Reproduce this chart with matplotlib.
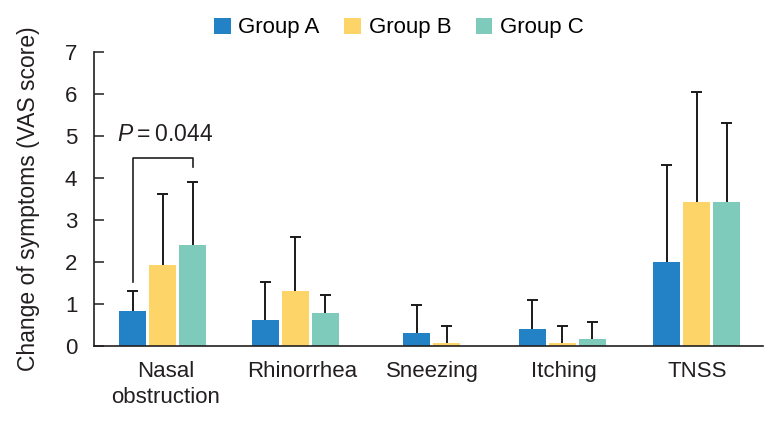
import matplotlib
matplotlib.use("Agg")
import matplotlib.pyplot as plt
import numpy as np
from matplotlib.patches import Patch

plt.rcParams['font.family'] = ['Liberation Sans', 'DejaVu Sans']
plt.rcParams['mathtext.fontset'] = 'custom'
plt.rcParams['mathtext.it'] = 'Liberation Sans:italic'
plt.rcParams['mathtext.rm'] = 'Liberation Sans'

categories = ["Nasal\nobstruction", "Rhinorrhea", "Sneezing", "Itching", "TNSS"]
groups = ["Group A", "Group B", "Group C"]
group_a = [0.83, 0.62, 0.31, 0.40, 2.00]
group_b = [1.92, 1.31, 0.07, 0.07, 3.43]
group_c = [2.40, 0.79, 0.00, 0.17, 3.43]
err_a = [0.48, 0.90, 0.67, 0.69, 2.30]
err_b = [1.69, 1.29, 0.41, 0.41, 2.61]
err_c = [1.50, 0.42, np.nan, 0.40, 1.87]
p_label = "0.044"
yticks = [0, 1, 2, 3, 4, 5, 6, 7]

colors = ["#2382C6", "#FDD467", "#7ECBBC"]

# layout (horizontal positions, in pixel-like units)
group_centers = [162.5, 295, 446.5, 562, 696.5]
label_centers = [166, 302, 432.5, 563.5, 697.5]
offsets = [-30, 0, 30]
bar_w = 27
cap_half = 5.5

fig = plt.figure(figsize=(7.74, 4.21), dpi=100)
ax = fig.add_axes([94/774, 75/421, (763-94)/774, (346-51.5)/421])

vals = [group_a, group_b, group_c]
errs = [err_a, err_b, err_c]
for g in range(3):
    xs = np.array([c + offsets[g] for c in group_centers], dtype=float)
    v = np.array(vals[g], dtype=float)
    e = np.array(errs[g], dtype=float)
    ax.bar(xs, v, width=bar_w, color=colors[g], zorder=2)
    ok = ~np.isnan(e)
    ax.vlines(xs[ok], v[ok], v[ok] + e[ok], color='#1a1a1a', lw=1.4, zorder=1)
    ax.hlines(v[ok] + e[ok], xs[ok] - cap_half, xs[ok] + cap_half, color='#1a1a1a', lw=1.4, zorder=1)

ax.set_xlim(94, 763)
ax.set_ylim(0, 7)
ax.set_yticks(yticks)
ax.set_xticks(label_centers)
ax.set_xticklabels(categories, fontsize=16, linespacing=1.3)
ax.tick_params(axis='x', length=0, pad=11, colors='#231f20')
ax.tick_params(axis='y', direction='in', length=7, width=1.1, labelsize=16,
               pad=12, colors='#231f20')
for s in ['top', 'right']:
    ax.spines[s].set_visible(False)
for s in ['left', 'bottom']:
    ax.spines[s].set_linewidth(1.2)
    ax.spines[s].set_color('#231f20')

ax.set_ylabel("Change of symptoms (VAS score)", fontsize=16.5, color='#231f20', labelpad=18)

# significance bracket between group A and group C for nasal obstruction
xa = group_centers[0] + offsets[0]
xc = group_centers[0] + offsets[2]
yb = 4.48
ax.plot([xa, xa, xc, xc], [err_a[0] + group_a[0] + 0.2, yb, yb, group_c[0] + err_c[0] + 0.35],
        color='#231f20', lw=1.2, clip_on=False)
ax.text((xa + xc) / 2 + 3, yb + 0.28, r"$P$" + "\u2009=\u2009" + p_label, fontsize=16.5,
        ha='center', va='bottom', color='#231f20')

handles = [Patch(facecolor=c, edgecolor='none') for c in colors]
fig.legend(handles, groups, loc='center', bbox_to_anchor=(399/774, 1 - 28/421), ncol=3,
           frameon=False, fontsize=16, handlelength=0.75, handleheight=0.75,
           handletextpad=0.35, columnspacing=1.1, borderaxespad=0)

fig.savefig("out.png", dpi=100)
